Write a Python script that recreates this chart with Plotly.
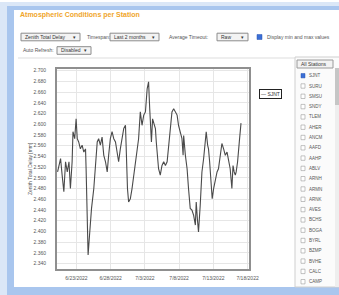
import plotly.graph_objects as go

# ---------------- data ----------------
timestamps = [
    "2022-06-20 06:00", "2022-06-20 16:30", "2022-06-20 22:00", "2022-06-21 04:00", "2022-06-21 10:00",
    "2022-06-21 16:00", "2022-06-21 22:00", "2022-06-22 03:00", "2022-06-22 09:00", "2022-06-22 12:00",
    "2022-06-22 18:00", "2022-06-22 23:00", "2022-06-23 03:00", "2022-06-23 08:00", "2022-06-23 14:00",
    "2022-06-23 20:00", "2022-06-24 02:00", "2022-06-24 08:00", "2022-06-24 10:00", "2022-06-24 14:00",
    "2022-06-24 17:00", "2022-06-24 22:00", "2022-06-25 05:00", "2022-06-25 13:00", "2022-06-25 19:00",
    "2022-06-26 01:00", "2022-06-26 06:00", "2022-06-26 12:00", "2022-06-26 18:00", "2022-06-27 00:00",
    "2022-06-27 06:00", "2022-06-27 12:00", "2022-06-27 17:00", "2022-06-27 23:00", "2022-06-28 05:00",
    "2022-06-28 11:00", "2022-06-28 17:00", "2022-06-28 23:00", "2022-06-29 04:00", "2022-06-29 10:00",
    "2022-06-29 16:00", "2022-06-29 22:00", "2022-06-30 04:00", "2022-06-30 07:00", "2022-06-30 11:00",
    "2022-06-30 15:00", "2022-06-30 21:00", "2022-07-01 03:00", "2022-07-01 09:00", "2022-07-01 15:00",
    "2022-07-01 21:00", "2022-07-02 02:00", "2022-07-02 08:00", "2022-07-02 14:00", "2022-07-02 20:00",
    "2022-07-03 02:00", "2022-07-03 08:00", "2022-07-03 13:00", "2022-07-03 17:00", "2022-07-03 23:00",
    "2022-07-04 03:00", "2022-07-04 09:00", "2022-07-04 13:00", "2022-07-04 16:00", "2022-07-04 21:00",
    "2022-07-05 00:00", "2022-07-05 06:00", "2022-07-05 12:00", "2022-07-05 18:00", "2022-07-06 00:00",
    "2022-07-06 06:00", "2022-07-06 11:00", "2022-07-06 17:00", "2022-07-06 23:00", "2022-07-07 05:00",
    "2022-07-07 11:00", "2022-07-07 17:00", "2022-07-07 22:00", "2022-07-08 04:00", "2022-07-08 10:00",
    "2022-07-08 14:00", "2022-07-08 16:00", "2022-07-08 22:00", "2022-07-09 04:00", "2022-07-09 09:00",
    "2022-07-09 15:00", "2022-07-09 21:00", "2022-07-10 03:00", "2022-07-10 09:00", "2022-07-10 12:00",
    "2022-07-10 16:00", "2022-07-10 20:00", "2022-07-11 02:00", "2022-07-11 08:00", "2022-07-11 14:00",
    "2022-07-11 20:00", "2022-07-11 23:00", "2022-07-12 04:00", "2022-07-12 07:00", "2022-07-12 11:00",
    "2022-07-12 16:00", "2022-07-12 20:00", "2022-07-13 01:00", "2022-07-13 07:00", "2022-07-13 13:00",
    "2022-07-13 18:00", "2022-07-14 00:00", "2022-07-14 06:00", "2022-07-14 12:00", "2022-07-14 18:00",
    "2022-07-15 00:00", "2022-07-15 05:00", "2022-07-15 11:00", "2022-07-15 17:00", "2022-07-15 21:00",
    "2022-07-16 01:00", "2022-07-16 05:00", "2022-07-16 08:00", "2022-07-16 13:00", "2022-07-16 19:00",
    "2022-07-17 01:00",
]
ztd_values = [
    2.511, 2.536, 2.505, 2.474, 2.530, 2.511, 2.530, 2.480, 2.530, 2.586,
    2.573, 2.610, 2.573, 2.567, 2.554, 2.561, 2.548, 2.554, 2.517, 2.436,
    2.356, 2.393, 2.443, 2.480, 2.530, 2.567, 2.573, 2.561, 2.576, 2.542,
    2.530, 2.511, 2.542, 2.573, 2.586, 2.573, 2.567, 2.548, 2.530, 2.554,
    2.573, 2.592, 2.598, 2.530, 2.480, 2.455, 2.461, 2.480, 2.505, 2.536,
    2.561, 2.573, 2.623, 2.598, 2.617, 2.623, 2.666, 2.679, 2.629, 2.567,
    2.610, 2.598, 2.592, 2.567, 2.542, 2.517, 2.505, 2.523, 2.530, 2.523,
    2.530, 2.561, 2.598, 2.623, 2.629, 2.623, 2.617, 2.598, 2.586, 2.573,
    2.542, 2.579, 2.542, 2.517, 2.480, 2.443, 2.440, 2.430, 2.412, 2.455,
    2.424, 2.399, 2.449, 2.511, 2.536, 2.567, 2.586, 2.561, 2.554, 2.530,
    2.486, 2.461, 2.480, 2.499, 2.511, 2.517, 2.542, 2.564, 2.554, 2.542,
    2.548, 2.536, 2.517, 2.480, 2.523, 2.511, 2.505, 2.511, 2.530, 2.567,
    2.602,
]
series_name = "SJNT"
x_tick_values = ["2022-06-23", "2022-06-28", "2022-07-03", "2022-07-08", "2022-07-13", "2022-07-18"]
x_tick_labels = ["6/23/2022", "6/28/2022", "7/3/2022", "7/8/2022", "7/13/2022", "7/18/2022"]
stations = ["SJNT", "SURU", "SMSU", "SNDY", "TLEM", "AHER", "ANCM", "AAFD", "AAHP", "ABLV", "ARNH",
            "ARMN", "ARNK", "AVES", "BCHS", "BOGA", "BYRL", "BZMP", "BVHE", "CALC", "CAMP"]
selected_stations = ["SJNT"]

# ---------------- layout helpers ----------------
W, H = 339, 295
ML, MR, MT, MB = 57, 90, 69, 26
PW, PH = W - ML - MR, H - MT - MB
FONT = "Arial, Liberation Sans, sans-serif"


def X(px):
    return (px - ML) / PW


def Y(py):
    return (H - MB - py) / PH


shapes = []
annotations = []


def rect(x0, y0, x1, y1, fill, line="rgba(0,0,0,0)", lw=0, layer="below"):
    shapes.append(dict(type="rect", xref="paper", yref="paper", x0=X(x0), x1=X(x1), y0=Y(y1), y1=Y(y0),
                       fillcolor=fill, line=dict(color=line, width=lw), layer=layer))


def text(x, y, s, size=5, color="#555", anchor="left", **kw):
    annotations.append(dict(xref="paper", yref="paper", x=X(x), y=Y(y), text=s, showarrow=False,
                            xanchor=anchor, yanchor="middle", font=dict(size=size, color=color, family=FONT), **kw))


def dropdown(x0, x1, yc, label):
    rect(x0, yc - 3.8, x1, yc + 3.8, "#f3f3f3", "#8c8c8c", 1, layer="above")
    text(x0 + 2, yc, label, size=5, color="#333")
    text(x1 - 2, yc, "\u25be", size=5, color="#333", anchor="right")


# page frame (blue window glow)
rect(0, 2, 350, 300, "#dbe7f7")
rect(7, 6, 350, 300, "#a9c6ee")
rect(14, 10, 350, 287, "#ffffff")

# header
text(18, 15.5, "<b>Atmospheric Conditions per Station</b>", size=7, color="#f0a52a")
dropdown(21, 80, 37, "Zenith Total Delay")
text(85, 37, "Timespan:")
dropdown(110, 159, 37, "Last 2 months")
text(167, 37, "Average Timeout:")
dropdown(217, 248, 37, "Raw")
rect(257, 34.5, 262, 39.5, "#3b6fd6", "#2a55b0", 0.5, layer="above")
text(265, 37, "Display min and max values")
text(21, 50.5, "Auto Refresh:")
dropdown(57, 91, 50.5, "Disabled")
shapes.append(dict(type="line", xref="paper", yref="paper", x0=X(18), x1=X(295), y0=Y(58), y1=Y(58),
                   line=dict(color="#dddddd", width=1)))

# y axis title
annotations.append(dict(xref="paper", yref="paper", x=X(30), y=Y(169), text="Zenith Total Delay [mm]",
                        showarrow=False, textangle=-90, xanchor="center", yanchor="middle",
                        font=dict(size=5, color="#555", family=FONT)))

# legend box
text(270.5, 93.5, "\u2014 " + series_name, size=5, color="#333", anchor="center",
     bordercolor="#222", borderwidth=1, bgcolor="#ffffff", borderpad=1)

# right station panel
rect(295, 57, 345, 287, "#fbfbfb", "#cfcfcf", 1)
rect(297, 60, 333, 68, "#f3f3f3", "#9a9a9a", 1, layer="above")
text(299, 64, "All Stations", size=5, color="#333")
rect(335, 68, 339, 287, "#eeeeee")
rect(335, 68, 339, 105, "#c6c6c6")
for i, st in enumerate(stations):
    yc = 75.7 + i * 10.3
    if st in selected_stations:
        rect(301, yc - 2.2, 305, yc + 2.2, "#3b6fd6", "#2a55b0", 0.5, layer="above")
    else:
        rect(301, yc - 2.2, 305, yc + 2.2, "#ffffff", "#9a9a9a", 0.6, layer="above")
    text(307, yc, st, size=4.5, color="#555")

# ---------------- figure ----------------
fig = go.Figure()
fig.add_trace(go.Scatter(x=timestamps, y=ztd_values, mode="lines", name=series_name,
                         line=dict(color="#4a4a4a", width=1.1), showlegend=False))

fig.update_layout(
    width=W, height=H, autosize=False,
    margin=dict(l=ML, r=MR, t=MT, b=MB, pad=0),
    paper_bgcolor="#ffffff", plot_bgcolor="#ffffff",
    font=dict(family=FONT, size=5, color="#555"),
    shapes=shapes, annotations=annotations, showlegend=False,
    hovermode=False,
)
fig.update_xaxes(
    type="date", range=["2022-06-20 04:00", "2022-07-18 05:00"],
    tickmode="array", tickvals=x_tick_values, ticktext=x_tick_labels,
    tickfont=dict(size=5, color="#555"), ticks="", ticklabelstandoff=3,
    showgrid=True, gridcolor="#e6e6e6", gridwidth=1,
    showline=True, linecolor="#8f8f8f", linewidth=2, mirror=True, zeroline=False,
)
fig.update_yaxes(
    range=[2.330, 2.703], tick0=2.34, dtick=0.02, tickformat=".3f",
    tickfont=dict(size=5, color="#555"), ticks="", ticklabelstandoff=8,
    showgrid=True, gridcolor="#e6e6e6", gridwidth=1,
    showline=True, linecolor="#8f8f8f", linewidth=2, mirror=True, zeroline=False,
)

fig.write_html(
    "out.html",
    config={"displayModeBar": False, "staticPlot": True},
    post_script="document.body.style.margin='0';document.body.style.overflow='hidden';",
)
